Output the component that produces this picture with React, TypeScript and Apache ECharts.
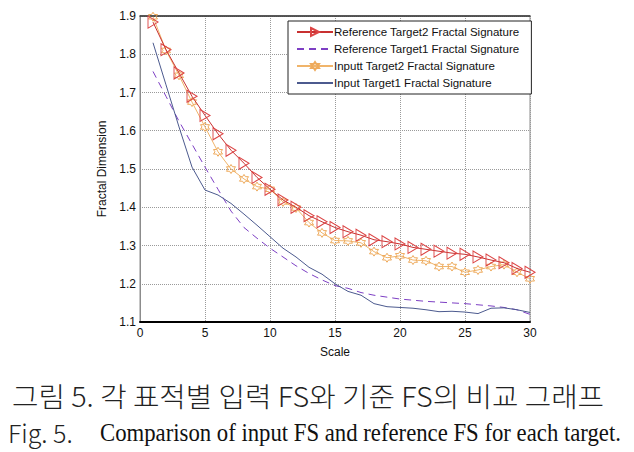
import React, { useEffect, useRef } from "react";
import * as echarts from "echarts";

const scales = Array.from({ length: 30 }, (_, i) => i + 1);
const refTarget2 = [1.884, 1.812, 1.751, 1.69, 1.64, 1.592, 1.549, 1.515, 1.478, 1.447, 1.419, 1.4, 1.378, 1.362, 1.347, 1.336, 1.327, 1.315, 1.31, 1.304, 1.295, 1.29, 1.285, 1.28, 1.277, 1.27, 1.262, 1.255, 1.24, 1.23];
const refTarget1 = [1.755, 1.69, 1.625, 1.565, 1.505, 1.447, 1.39, 1.347, 1.319, 1.293, 1.27, 1.247, 1.227, 1.21, 1.195, 1.188, 1.177, 1.17, 1.165, 1.16, 1.157, 1.154, 1.152, 1.15, 1.148, 1.145, 1.142, 1.138, 1.132, 1.12];
const inputTarget2 = [1.898, 1.81, 1.745, 1.675, 1.61, 1.545, 1.5, 1.474, 1.454, 1.447, 1.414, 1.398, 1.36, 1.333, 1.313, 1.312, 1.307, 1.284, 1.268, 1.273, 1.262, 1.26, 1.245, 1.245, 1.23, 1.236, 1.245, 1.25, 1.23, 1.213];
const inputTarget1 = [1.83, 1.72, 1.61, 1.505, 1.445, 1.432, 1.41, 1.382, 1.353, 1.323, 1.293, 1.27, 1.243, 1.225, 1.2, 1.18, 1.17, 1.148, 1.14, 1.138, 1.136, 1.132, 1.127, 1.128, 1.126, 1.122, 1.136, 1.137, 1.132, 1.125];
const seriesNames = [
  "Reference Target2 Fractal Signature",
  "Reference Target1 Fractal Signature",
  "Inputt Target2 Fractal Signature",
  "Input Target1 Fractal Signature",
];
const captionKo = "그림 5. 각 표적별 입력 FS와 기준 FS의 비교 그래프";
const captionEnPrefix = "Fig. 5.";
const captionEn = "Comparison of input FS and reference FS for each target.";

const pairs = (ys: number[]) => scales.map((x, i) => [x, ys[i]]);

const TRI = "path://M0,0 L10,5 L0,10 Z";
const HEX = "path://M5,0 L6.4,2.5 L9.3,2.5 L7.9,5 L9.3,7.5 L6.4,7.5 L5,10 L3.6,7.5 L0.7,7.5 L2.1,5 L0.7,2.5 L3.6,2.5 Z";

export default function App() {
  const ref = useRef<HTMLDivElement>(null);
  useEffect(() => {
    const chart = echarts.init(ref.current!, null, { renderer: "svg" });
    const font = "Liberation Sans";
    chart.setOption({
      animation: false,
      backgroundColor: "#fff",
      textStyle: { fontFamily: font },
      grid: { left: 140, right: 104, top: 16, bottom: 130, show: true, borderColor: "#8c8c8c", borderWidth: 1 },
      legend: {
        data: [
          { name: seriesNames[0] },
          { name: seriesNames[1], itemStyle: { opacity: 0 } },
          { name: seriesNames[2] },
          { name: seriesNames[3], itemStyle: { opacity: 0 } },
        ],
        orient: "vertical",
        left: 288,
        top: 21,
        itemWidth: 36,
        itemHeight: 10,
        itemGap: 5,
        padding: [5, 12, 5, 8],
        backgroundColor: "#fff",
        borderColor: "#222",
        borderWidth: 1,
        borderRadius: 0,
        textStyle: { fontFamily: font, fontSize: 11.5, color: "#111", padding: [0, 0, 0, -4] },
      },
      xAxis: [
        {
          type: "value",
          min: 0,
          max: 30,
          interval: 5,
          name: "Scale",
          nameLocation: "middle",
          nameGap: 24,
          nameTextStyle: { fontFamily: font, fontSize: 12, color: "#111" },
          axisLine: { show: true, onZero: false, lineStyle: { color: "#000", width: 2 } },
          axisTick: { show: false },
          axisLabel: { fontFamily: font, fontSize: 12, color: "#111", margin: 5 },
          splitLine: { show: true, lineStyle: { color: "#9a9a9a", type: "dotted", width: 1 } },
        },
        {
          type: "value",
          position: "top",
          min: 0,
          max: 30,
          interval: 5,
          axisLine: { show: true, lineStyle: { color: "#333", width: 1.5 } },
          axisTick: { show: false },
          axisLabel: { show: false },
          splitLine: { show: false },
        },
      ],
      yAxis: {
        type: "value",
        min: 1.1,
        max: 1.9,
        interval: 0.1,
        name: "Fractal Dimension",
        nameLocation: "middle",
        nameGap: 26,
        nameTextStyle: { fontFamily: font, fontSize: 12, color: "#111" },
        axisLine: { show: true, lineStyle: { color: "#8c8c8c", width: 1 } },
        axisTick: { show: false },
        axisLabel: { fontFamily: font, fontSize: 12, color: "#111", margin: 4, formatter: (v: number) => v.toFixed(1) },
        splitLine: { show: true, lineStyle: { color: "#9a9a9a", type: "dotted", width: 1 } },
      },
      series: [
        {
          name: seriesNames[1],
          type: "line",
          data: pairs(refTarget1),
          showSymbol: false,
          symbol: "none",
          lineStyle: { color: "#7d3fc4", width: 1, type: [7, 5] },
          itemStyle: { color: "#7d3fc4" },
          z: 2,
        },
        {
          name: seriesNames[3],
          type: "line",
          data: pairs(inputTarget1),
          showSymbol: false,
          symbol: "none",
          lineStyle: { color: "#4c5a8e", width: 1 },
          itemStyle: { color: "#4c5a8e" },
          z: 3,
        },
        {
          name: seriesNames[2],
          type: "line",
          data: pairs(inputTarget2),
          symbol: HEX,
          symbolSize: 9,
          lineStyle: { color: "#f0b46a", width: 1 },
          itemStyle: { color: "rgba(255,255,255,0)", borderColor: "#eeaa5c", borderWidth: 1 },
          z: 4,
        },
        {
          name: seriesNames[0],
          type: "line",
          data: pairs(refTarget2),
          symbol: TRI,
          symbolSize: [10, 12],
          lineStyle: { color: "#c83030", width: 1 },
          itemStyle: { color: "rgba(255,255,255,0)", borderColor: "#dc4545", borderWidth: 1 },
          z: 5,
        },
      ],
      graphic: [
        {
          type: "text",
          x: 12,
          y: 382,
          scaleX: 1.065,
          style: { text: captionKo, font: '300 27px "Noto Sans CJK KR"', fill: "#222" },
        },
        {
          type: "text",
          left: 8,
          top: 419,
          style: { text: captionEnPrefix, font: '300 25px "Noto Sans CJK KR"', fill: "#222" },
        },
        {
          type: "text",
          x: 100,
          y: 419,
          scaleX: 0.875,
          style: { text: captionEn, font: '400 26px "Liberation Serif"', fill: "#111" },
        },
      ],
    });
    return () => chart.dispose();
  }, []);
  return <div ref={ref} style={{ position: "absolute", left: 0, top: 0, width: 634, height: 452 }} />;
}
